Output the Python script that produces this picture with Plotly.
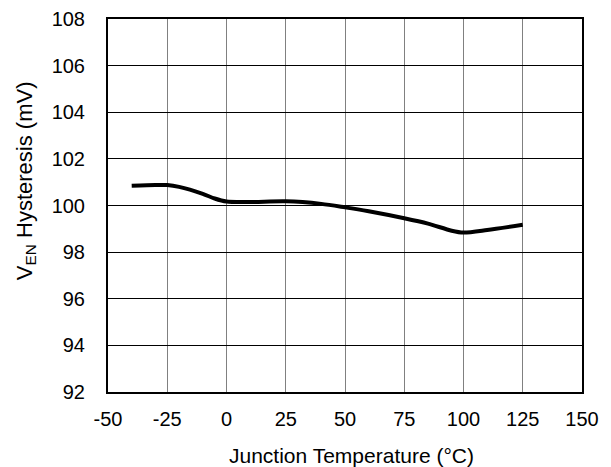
import plotly.graph_objects as go

temperature = [-40, -30, -25, -20, -10, -5, 0, 10, 25, 40, 50, 60, 75, 85, 95, 100, 110, 125]
hysteresis = [100.85, 100.88, 100.88, 100.8, 100.5, 100.3, 100.17, 100.15, 100.18, 100.07,
              99.92, 99.75, 99.45, 99.22, 98.92, 98.84, 98.95, 99.17]

x_ticks = [-50, -25, 0, 25, 50, 75, 100, 125, 150]
y_ticks = [92, 94, 96, 98, 100, 102, 104, 106, 108]

fig = go.Figure()
fig.add_trace(go.Scatter(x=temperature, y=hysteresis, mode="lines",
                         line=dict(color="black", width=4, shape="spline", smoothing=0.8),
                         showlegend=False))

tick_font = dict(family="Liberation Sans, Arial, sans-serif", size=20, color="black")
title_font = dict(family="Liberation Sans, Arial, sans-serif", size=21, color="black")
ytitle_font = dict(family="Liberation Sans, Arial, sans-serif", size=22, color="black")
fig.update_layout(
    width=603, height=459,
    margin=dict(l=100, r=29, t=11, b=75, autoexpand=False),
    paper_bgcolor="white", plot_bgcolor="white",
    font=tick_font,
    annotations=[
        dict(text="V<sub>EN</sub> Hysteresis (mV)", xref="paper", yref="paper",
             x=-0.173, y=0.568, xanchor="center", yanchor="middle", textangle=-90,
             showarrow=False, font=ytitle_font),
        dict(text="Junction Temperature (°C)", xref="paper", yref="paper",
             x=0.5127, y=-0.169, xanchor="center", yanchor="middle",
             showarrow=False, font=title_font),
    ],
)
fig.update_xaxes(range=[-50, 150], tickvals=x_ticks, ticktext=[str(v) for v in x_ticks],
                 showgrid=True, gridcolor="#808080", gridwidth=1,
                 showline=True, linecolor="black", linewidth=2, mirror=True,
                 ticks="outside", ticklen=8, tickcolor="rgba(0,0,0,0)",
                 ticklabeloverflow="allow",
                 zeroline=False, automargin=False, tickfont=tick_font)
fig.update_yaxes(range=[92, 108], tickvals=y_ticks, ticktext=[str(v) for v in y_ticks],
                 showgrid=True, gridcolor="black", gridwidth=1,
                 showline=True, linecolor="black", linewidth=2, mirror=True,
                 ticks="outside", ticklen=17, tickcolor="rgba(0,0,0,0)",
                 ticklabeloverflow="allow",
                 zeroline=False, automargin=False, tickfont=tick_font)

fig.write_html("out.html")
